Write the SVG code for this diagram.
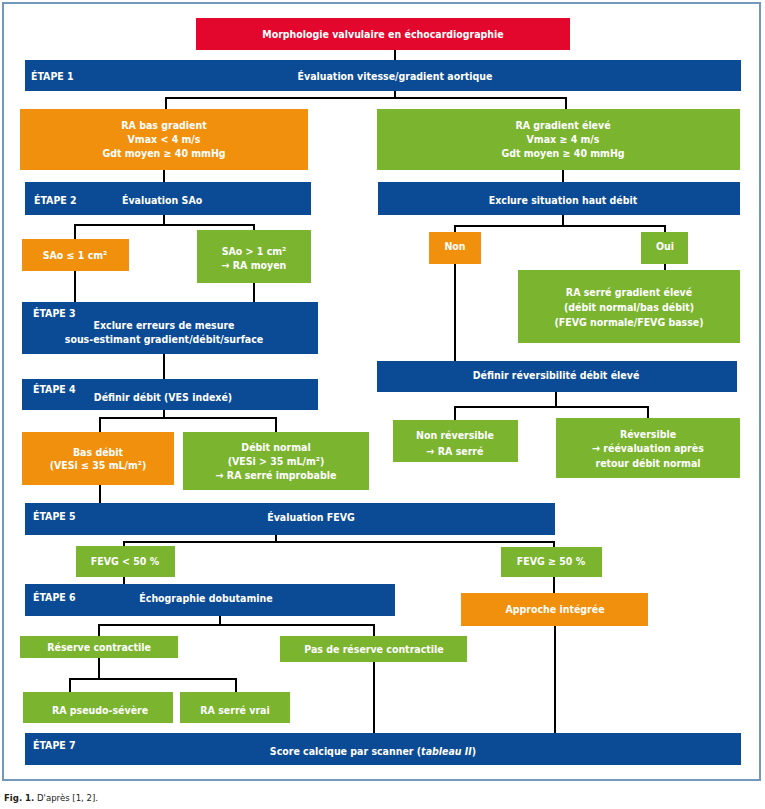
<svg xmlns="http://www.w3.org/2000/svg" width="765" height="809" viewBox="0 0 765 809">
<style>
.r{fill:#e3062d}
.b{fill:#0b4b95}
.o{fill:#f0900c}
.g{fill:#7bb42f}
.frame{fill:none;stroke:#7298bb;stroke-width:2}
.c path{fill:none;stroke:#000;stroke-width:2}
text{font-family:"DejaVu Sans Condensed","DejaVu Sans","Liberation Sans",sans-serif;font-stretch:condensed;font-weight:bold;font-size:10.5px;fill:#fff}
.t{text-anchor:middle}
.cap{fill:#222;font-weight:normal;font-size:9.5px}
</style>
<rect class="frame" x="3" y="3" width="757" height="777"/>
<g class="c" id="connectors">
<path d="M395 50V60"/>
<path d="M395 91V98M166 109V98H566V109"/>
<path d="M164 170V182"/>
<path d="M563 170V182"/>
<path d="M164 215V225M75 239V225H254V230"/>
<path d="M563 215V226M455 232V226H665V232"/>
<path d="M665 264V270"/>
<path d="M75 271V302M254 283V302"/>
<path d="M164 354V379"/>
<path d="M455 264V361"/>
<path d="M556 392V407M455 420V407H648V418"/>
<path d="M164 410V418M100 432V418H276V432"/>
<path d="M100 485V503"/>
<path d="M276 535V542M124 546V542H554V547"/>
<path d="M124 577V584"/>
<path d="M554 577V593"/>
<path d="M220 616V625M99 636V625H374V636"/>
<path d="M99 658V679M70 692V679H236V692"/>
<path d="M374 662V733M555 626V733"/>
</g>
<g id="n_morpho"><rect class="r" x="196" y="18" width="374" height="32"/><text class="t" x="383" y="38">Morphologie valvulaire en échocardiographie</text></g>
<g id="n_etape1"><rect class="b" x="25" y="60" width="716" height="31"/><text x="31" y="80">ÉTAPE 1</text><text class="t" x="395" y="80">Évaluation vitesse/gradient aortique</text></g>
<g id="n_basgrad"><rect class="o" x="20" y="109" width="288" height="61"/><text class="t" x="164" y="129">RA bas gradient</text><text class="t" x="164" y="143">Vmax &lt; 4 m/s</text><text class="t" x="164" y="157">Gdt moyen ≥ 40 mmHg</text></g>
<g id="n_gradeleve"><rect class="g" x="377" y="109" width="363" height="61"/><text class="t" x="563" y="129">RA gradient élevé</text><text class="t" x="563" y="143">Vmax ≥ 4 m/s</text><text class="t" x="563" y="157">Gdt moyen ≥ 40 mmHg</text></g>
<g id="n_etape2"><rect class="b" x="25" y="182" width="286" height="33"/><text x="34" y="204">ÉTAPE 2</text><text x="122" y="204">Évaluation SAo</text></g>
<g id="n_hautdebit"><rect class="b" x="378" y="182" width="362" height="33"/><text class="t" x="563" y="204">Exclure situation haut débit</text></g>
<g id="n_sao1"><rect class="o" x="22" y="239" width="107" height="32"/><text class="t" x="75" y="259">SAo ≤ 1 cm²</text></g>
<g id="n_sao2"><rect class="g" x="197" y="230" width="114" height="53"/><text class="t" x="254" y="255">SAo &gt; 1 cm²</text><text class="t" x="254" y="269">→ RA moyen</text></g>
<g id="n_non"><rect class="o" x="429" y="232" width="52" height="32"/><text class="t" x="455" y="250">Non</text></g>
<g id="n_oui"><rect class="g" x="641" y="232" width="47" height="32"/><text class="t" x="665" y="250">Oui</text></g>
<g id="n_serregrad"><rect class="g" x="518" y="270" width="222" height="73"/><text class="t" x="629" y="296">RA serré gradient élevé</text><text class="t" x="629" y="311">(débit normal/bas débit)</text><text class="t" x="629" y="326">(FEVG normale/FEVG basse)</text></g>
<g id="n_etape3"><rect class="b" x="22" y="302" width="296" height="52"/><text x="33" y="317">ÉTAPE 3</text><text class="t" x="164" y="329">Exclure erreurs de mesure</text><text class="t" x="164" y="343">sous-estimant gradient/débit/surface</text></g>
<g id="n_etape4"><rect class="b" x="22" y="379" width="296" height="31"/><text x="33" y="393">ÉTAPE 4</text><text class="t" x="163" y="401">Définir débit (VES indexé)</text></g>
<g id="n_reversib"><rect class="b" x="377" y="361" width="360" height="31"/><text class="t" x="556" y="379">Définir réversibilité débit élevé</text></g>
<g id="n_nonrev"><rect class="g" x="393" y="420" width="125" height="42"/><text class="t" x="455" y="439">Non réversible</text><text class="t" x="455" y="455">→ RA serré</text></g>
<g id="n_rev"><rect class="g" x="556" y="418" width="184" height="60"/><text class="t" x="648" y="438">Réversible</text><text class="t" x="648" y="452">→ réévaluation après</text><text class="t" x="648" y="467">retour débit normal</text></g>
<g id="n_basdebit"><rect class="o" x="22" y="432" width="152" height="53"/><text class="t" x="98" y="456">Bas débit</text><text class="t" x="98" y="469">(VESi ≤ 35 mL/m²)</text></g>
<g id="n_debitnormal"><rect class="g" x="183" y="432" width="186" height="58"/><text class="t" x="276" y="451">Débit normal</text><text class="t" x="276" y="465">(VESi &gt; 35 mL/m²)</text><text class="t" x="276" y="479">→ RA serré improbable</text></g>
<g id="n_etape5"><rect class="b" x="25" y="503" width="530" height="32"/><text x="33" y="520">ÉTAPE 5</text><text class="t" x="311" y="521">Évaluation FEVG</text></g>
<g id="n_fevg1"><rect class="g" x="76" y="546" width="99" height="31"/><text class="t" x="125" y="565">FEVG &lt; 50 %</text></g>
<g id="n_fevg2"><rect class="g" x="501" y="547" width="101" height="30"/><text class="t" x="551" y="565">FEVG ≥ 50 %</text></g>
<g id="n_etape6"><rect class="b" x="25" y="584" width="370" height="32"/><text x="33" y="601">ÉTAPE 6</text><text class="t" x="206" y="602">Échographie dobutamine</text></g>
<g id="n_approche"><rect class="o" x="461" y="593" width="187" height="33"/><text class="t" x="555" y="613">Approche intégrée</text></g>
<g id="n_reserve"><rect class="g" x="20" y="636" width="158" height="22"/><text class="t" x="99" y="651">Réserve contractile</text></g>
<g id="n_pasreserve"><rect class="g" x="280" y="636" width="187" height="26"/><text class="t" x="374" y="653">Pas de réserve contractile</text></g>
<g id="n_pseudo"><rect class="g" x="23" y="692" width="150" height="31"/><text class="t" x="100" y="714">RA pseudo-sévère</text></g>
<g id="n_vrai"><rect class="g" x="180" y="692" width="110" height="31"/><text class="t" x="235" y="714">RA serré vrai</text></g>
<g id="n_etape7"><rect class="b" x="25" y="733" width="716" height="32"/><text x="33" y="749">ÉTAPE 7</text><text class="t" x="373" y="755">Score calcique par scanner (<tspan font-style="italic">tableau II</tspan>)</text></g>
<text class="cap" x="4" y="801"><tspan font-weight="bold">Fig. 1.</tspan> D'après [1, 2].</text>
</svg>
